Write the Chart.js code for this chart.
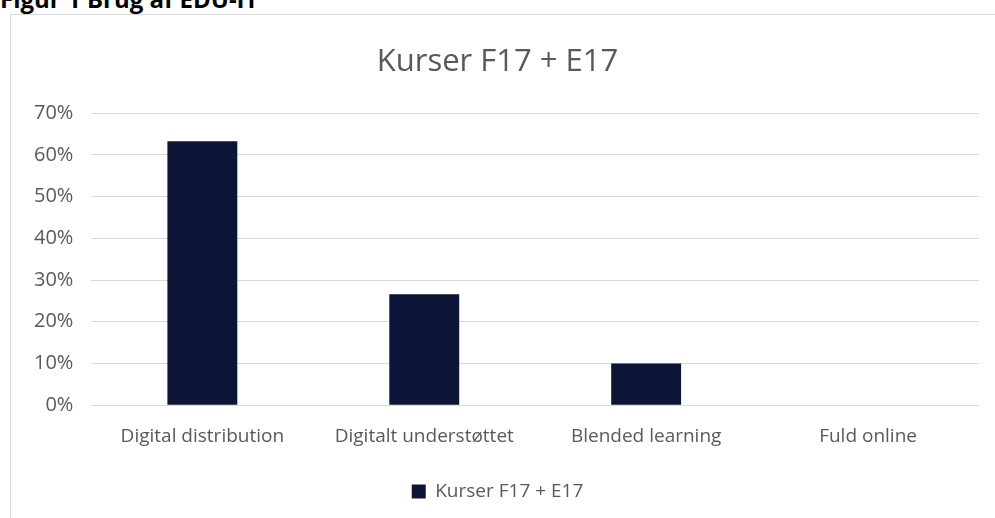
<!DOCTYPE html>
<html>
<head>
<meta charset="utf-8">
<script src="https://cdn.jsdelivr.net/npm/chart.js@4"></script>
<style>
  body { margin: 0; background: #fff; overflow: hidden; font-family: "Open Sans", sans-serif; }
  #caption { position: absolute; left: 0; top: -13px; font-weight: bold; font-size: 24px; line-height: 24px; color: #000; white-space: nowrap; }
  #frame { position: absolute; left: 10px; top: 14px; width: 990px; height: 510px; border: 1px solid #d9d9d9; }
  #wrap { position: absolute; left: 0; top: 0; width: 984px; height: 504px; }
</style>
</head>
<body>
<div id="caption">Figur 1 Brug af EDU-IT</div>
<div id="frame"><div id="wrap"><canvas id="chart"></canvas></div></div>
<script>
var categories = ['Digital distribution', 'Digitalt understøttet', 'Blended learning', 'Fuld online'];
var seriesName = 'Kurser F17 + E17';
var values = [0.633, 0.266, 0.10, 0];
var chartTitle = 'Kurser F17 + E17';

document.addEventListener('DOMContentLoaded', function () {
  var ctx = document.getElementById('chart').getContext('2d');
  new Chart(ctx, {
    type: 'bar',
    data: {
      labels: categories,
      datasets: [{
        label: seriesName,
        data: values,
        backgroundColor: '#0b1538',
        barPercentage: 0.63,
        categoryPercentage: 0.5
      }]
    },
    options: {
      responsive: true,
      maintainAspectRatio: false,
      animation: false,
      layout: { padding: { left: 5, right: 16, top: 10, bottom: 8 } },
      scales: {
        x: {
          grid: { display: false },
          border: { display: false },
          ticks: { color: '#595959', font: { family: 'Open Sans', size: 19 }, padding: 12, maxRotation: 0 }
        },
        y: {
          min: 0,
          max: 0.7,
          ticks: {
            stepSize: 0.1,
            color: '#595959',
            font: { family: 'Open Sans', size: 20 },
            padding: 18,
            callback: function (v) { return Math.round(v * 100) + '%'; }
          },
          grid: { color: '#d9d9d9', lineWidth: 1, drawTicks: false },
          border: { display: false }
        }
      },
      plugins: {
        title: {
          display: true,
          text: chartTitle,
          color: '#595959',
          font: { family: 'Open Sans', size: 31, weight: 'normal' },
          padding: { top: 19, bottom: 32 }
        },
        legend: {
          display: true,
          position: 'bottom',
          labels: {
            color: '#595959',
            font: { family: 'Open Sans', size: 19 },
            boxWidth: 14,
            boxHeight: 14,
            padding: 22
          }
        },
        tooltip: { enabled: false }
      }
    }
  });
});
</script>
</body>
</html>
